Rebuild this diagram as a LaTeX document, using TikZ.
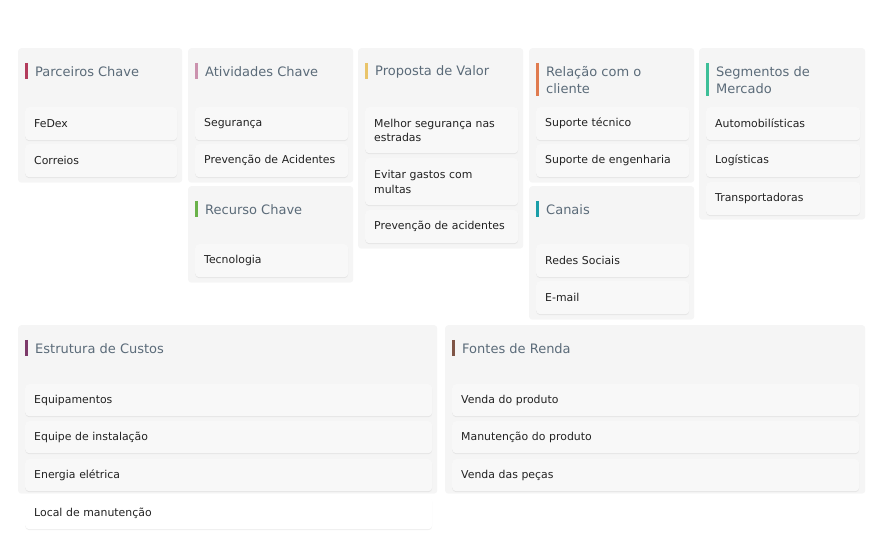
\documentclass[tikz,border=0pt]{standalone}
\usepackage{fontspec}
\setmainfont{DejaVu Sans}
\usetikzlibrary{shadows}
\definecolor{panelbg}{HTML}{F5F5F5}
\definecolor{itembg}{HTML}{F8F8F8}
\definecolor{titlec}{HTML}{5B6B79}
\definecolor{textc}{HTML}{222222}
\definecolor{cA}{HTML}{B33C5C}
\definecolor{cB}{HTML}{CB92AE}
\definecolor{cC}{HTML}{E9C46A}
\definecolor{cD}{HTML}{E07B4F}
\definecolor{cE}{HTML}{3DBF98}
\definecolor{cF}{HTML}{6AB24A}
\definecolor{cG}{HTML}{1A9EA8}
\definecolor{cH}{HTML}{7D3A6A}
\definecolor{cI}{HTML}{7F5546}
\tikzset{
  panel/.style={anchor=north west, fill=panelbg, rounded corners=3pt, inner sep=0pt,
    drop shadow={shadow xshift=0pt, shadow yshift=-0.5pt, opacity=0.06}},
  itembox/.style={anchor=north west, fill=itembg, rounded corners=4pt, inner xsep=9pt, inner ysep=0pt,
    minimum height=33pt, align=left, text=textc, font=\fontsize{10.9}{14.5}\selectfont,
    drop shadow={shadow xshift=0pt, shadow yshift=-1pt, opacity=0.13}},
  ptitle/.style={anchor=west, inner sep=0pt, text=titlec, align=left, font=\fontsize{13}{17}\selectfont},
  bar/.style={line width=3pt}
}
\begin{document}
\begin{tikzpicture}[x=1pt,y=-1pt]
\useasboundingbox (0,0) rectangle (891,534);
% panels
\node[panel, minimum width=164pt, minimum height=134pt] (p1) at (18,48) {};
\node[panel, minimum width=165pt, minimum height=134pt] (p2) at (188,48) {};
\node[panel, minimum width=165pt, minimum height=96pt] (p2b) at (188,186) {};
\node[panel, minimum width=165pt, minimum height=200pt] (p3) at (358,48) {};
\node[panel, minimum width=165pt, minimum height=134pt] (p4) at (529,48) {};
\node[panel, minimum width=165pt, minimum height=133pt] (p4b) at (529,186) {};
\node[panel, minimum width=166pt, minimum height=171pt] (p5) at (699,48) {};
\node[panel, minimum width=419pt, minimum height=168pt] (p6) at (18,325) {};
\node[panel, minimum width=420pt, minimum height=168pt] (p7) at (445,325) {};
% titles
\draw[bar, cA] (26.5,63) -- (26.5,79);
\node[ptitle] (t1) at (35,71.5) {Parceiros Chave};
\draw[bar, cB] (196.5,63) -- (196.5,79);
\node[ptitle] (t2) at (205,71.5) {Atividades Chave};
\draw[bar, cF] (196.5,201) -- (196.5,217);
\node[ptitle] (t2b) at (205,209.5) {Recurso Chave};
\draw[bar, cC] (366.5,63) -- (366.5,79);
\node[ptitle] (t3) at (375,71.5) {Proposta de Valor};
\draw[bar, cD] (537.5,63) -- (537.5,96);
\node[ptitle] (t4) at (546,80) {Relação com o\\cliente};
\draw[bar, cG] (537.5,201) -- (537.5,217);
\node[ptitle] (t4b) at (546,209.5) {Canais};
\draw[bar, cE] (707.5,63) -- (707.5,96);
\node[ptitle] (t5) at (716,80) {Segmentos de\\Mercado};
\draw[bar, cH] (26.5,340) -- (26.5,356);
\node[ptitle] (t6) at (35,348.5) {Estrutura de Custos};
\draw[bar, cI] (453.5,340) -- (453.5,356);
\node[ptitle] (t7) at (462,348.5) {Fontes de Renda};
% items col 1
\node[itembox, text width=134pt] (a1) at (25,107) {FeDex};
\node[itembox, text width=134pt] (a2) at (25,144) {Correios};
% col 2
\node[itembox, text width=135pt] (b1) at (195,107) {Segurança};
\node[itembox, text width=135pt] (b2) at (195,144) {Prevenção de Acidentes};
\node[itembox, text width=135pt] (b3) at (195,244) {Tecnologia};
% col 3
\node[itembox, text width=135pt, minimum height=46pt] (c1) at (365,107) {Melhor segurança nas\\estradas};
\node[itembox, text width=135pt, minimum height=47pt] (c2) at (365,158) {Evitar gastos com\\multas};
\node[itembox, text width=135pt] (c3) at (365,210) {Prevenção de acidentes};
% col 4
\node[itembox, text width=135pt] (d1) at (536,107) {Suporte técnico};
\node[itembox, text width=135pt] (d2) at (536,144) {Suporte de engenharia};
\node[itembox, text width=135pt] (d3) at (536,244) {Redes Sociais};
\node[itembox, text width=135pt] (d4) at (536,281) {E-mail};
% col 5
\node[itembox, text width=136pt] (e1) at (706,107) {Automobilísticas};
\node[itembox, text width=136pt] (e2) at (706,144) {Logísticas};
\node[itembox, text width=136pt] (e3) at (706,182) {Transportadoras};
% costs
\node[itembox, text width=389pt, minimum height=32pt] (f1) at (25,384) {Equipamentos};
\node[itembox, text width=389pt, minimum height=32pt] (f2) at (25,421) {Equipe de instalação};
\node[itembox, text width=389pt, minimum height=32pt] (f3) at (25,459) {Energia elétrica};
\node[itembox, text width=389pt, minimum height=32pt, fill=white] (f4) at (25,497) {Local de manutenção};
% revenue
\node[itembox, text width=389pt, minimum height=32pt] (g1) at (452,384) {Venda do produto};
\node[itembox, text width=389pt, minimum height=32pt] (g2) at (452,421) {Manutenção do produto};
\node[itembox, text width=389pt, minimum height=32pt] (g3) at (452,459) {Venda das peças};
\end{tikzpicture}
\end{document}
